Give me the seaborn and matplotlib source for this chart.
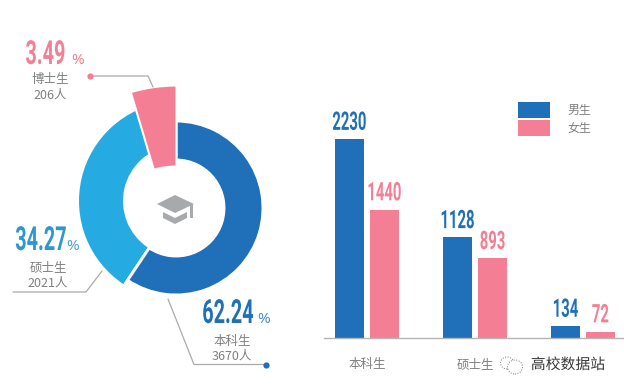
import matplotlib
matplotlib.use("Agg")
import matplotlib.pyplot as plt
import matplotlib.patheffects as pe
from matplotlib.patches import Ellipse, Polygon
from matplotlib.transforms import Affine2D
import pandas as pd
import seaborn as sns

# ---- data ----
levels = ["本科生", "硕士生", "博士生"]
level_ticks = ["本科生", "硕士生", ""]
male = [2230, 1128, 134]
female = [1440, 893, 72]
gender_names = ["男生", "女生"]
ring_arc_share = [59.4, 38.6, 2.0]  # blue sweep / light-blue sweep / tucked under the pink wedge
phd_arc_share = [4.6, 95.4]         # exploded pink wedge as drawn
pct_labels = ["62.24", "34.27", "3.49"]
count_labels = ["3670人", "2021人", "206人"]

BLUE = "#1F70B8"
LIGHT = "#25ABE2"
PINK = "#F47F94"
GREY = "#808080"
LINE = "#ABABAB"
ICON = "#A7A9AC"
NUM_FONT = "Roboto"

sns.set_theme(style="white")
plt.rcParams["font.family"] = ["Noto Sans CJK SC", "DejaVu Sans"]


class Tall(pe.AbstractPathEffect):
    """Draws real text stretched upward from its baseline, for a condensed look."""
    def __init__(self, sy):
        super().__init__()
        self.sy = sy

    def draw_path(self, renderer, gc, tpath, affine, rgbFace=None):
        renderer.draw_path(gc, tpath, Affine2D().scale(1, self.sy) + affine, rgbFace)


W, H = 624, 392
fig = plt.figure(figsize=(W / 100, H / 100), dpi=100, facecolor="white")

# ---- bars ----
ax = fig.add_axes([324 / W, (H - 338) / H, 300 / W, 338 / H])
df = pd.DataFrame({
    "level": levels * 2,
    "n": male + female,
    "gender": [gender_names[0]] * 3 + [gender_names[1]] * 3,
})
sns.barplot(data=df, x="level", y="n", hue="gender", order=levels,
            hue_order=gender_names, palette=[BLUE, PINK], width=0.648, gap=0.143,
            saturation=1, ax=ax, errorbar=None, linewidth=0)
ax.set_xlim(-43 / 108, 257 / 108)
ax.set_ylim(0, 338 / 0.0892)
ax.set_xlabel("")
ax.set_ylabel("")
ax.set_yticks([])
ax.set_xticks(range(3))
ax.set_xticklabels(level_ticks, fontsize=9, color=GREY)
ax.tick_params(axis="x", length=0, pad=14.5)
for s in ["top", "left", "right"]:
    ax.spines[s].set_visible(False)
ax.spines["bottom"].set_color("#B5B5B5")
ax.spines["bottom"].set_linewidth(1)
ax.patch.set_alpha(0)
for cont, col in zip(ax.containers, [BLUE, PINK]):
    ax.bar_label(cont, padding=4.5, fontsize=10.7, color=col, fontweight="bold",
                 family=NUM_FONT, path_effects=[Tall(1.72)], clip_on=False)
handles, labels = ax.get_legend_handles_labels()
ax.legend(handles, labels, loc="upper left", bbox_to_anchor=(518 / W, 1 - 102 / H),
          bbox_transform=fig.transFigure, frameon=False, fontsize=8.6, labelcolor=GREY,
          handlelength=2.67, handleheight=1.68, handletextpad=1.5, labelspacing=0.16,
          borderpad=0, borderaxespad=0)

# ---- overlay in pixel coordinates (y measured from the top of the picture) ----
ov = fig.add_axes([0, 0, 1, 1], zorder=3)
ov.patch.set_alpha(0)


def Y(y):
    return H - y


w_lo, _ = ov.pie(ring_arc_share, colors=["white", LIGHT, "white"], startangle=90, counterclock=False,
                 center=(179, Y(201)), radius=100, wedgeprops=dict(width=44, linewidth=0))
w_lo[0].remove()
w_lo[2].remove()
w_lo[1].set_zorder(1)
w_hi, _ = ov.pie(ring_arc_share, colors=[BLUE, "white", "white"], startangle=90, counterclock=False,
                 center=(176, Y(208)), radius=87,
                 wedgeprops=dict(width=39, linewidth=2.1, edgecolor="white"))
w_hi[1].remove()
w_hi[2].remove()
w_hi[0].set_zorder(2)
w_phd, _ = ov.pie(phd_arc_share, colors=[PINK, "white"], startangle=90, counterclock=True,
                  center=(176.5, Y(246)), radius=160.5,
                  wedgeprops=dict(width=81, linewidth=1.5, edgecolor="white"))
w_phd[1].remove()
w_phd[0].set_zorder(3)
ov.set_xlim(0, W)
ov.set_ylim(0, H)
ov.set_position([0, 0, 1, 1])
ov.axis("off")

# graduation cap icon
ov.add_patch(Polygon([(157, Y(204)), (175, Y(195)), (194, Y(204)), (175, Y(213))], fc=ICON, ec="none"))
ov.add_patch(Polygon([(163, Y(212)), (175, Y(218)), (187, Y(212)), (187, Y(218)), (175, Y(224)), (163, Y(218))], fc=ICON, ec="none"))
ov.add_patch(Polygon([(190, Y(205)), (193, Y(204)), (193, Y(218)), (190, Y(218))], fc=ICON, ec="none"))

# leader lines
ov.plot([90, 148, 153], [Y(76), Y(76), Y(87)], color=LINE, lw=0.9, zorder=4)
ov.plot([90], [Y(76)], "o", color=PINK, ms=4.5, mew=0, zorder=5)
ov.plot([13, 86, 102], [Y(292), Y(292), Y(271)], color=LINE, lw=0.9, zorder=4)
ov.plot([168, 194, 264], [Y(299), Y(364.5), Y(364.5)], color=LINE, lw=0.9, zorder=4)
ov.plot([266], [Y(364.5)], "o", color="#1A6FC0", ms=4.5, mew=0, zorder=5)

# big percentages
big = [(228, 323, pct_labels[0], BLUE, 264, "#4A8DCB"),
       (41, 250, pct_labels[1], "#2E97D0", 73, "#4AA3D8"),
       (45.5, 64, pct_labels[2], PINK, 78, PINK)]
for x, y, s, c, px, pc in big:
    ov.text(x, Y(y), s, ha="center", va="baseline", fontsize=14.3, color=c, fontweight="bold",
            family=NUM_FONT, path_effects=[Tall(1.67)], zorder=6)
    ov.text(px, Y(y), "%", ha="center", va="baseline", fontsize=11, color=pc, family="Noto Sans", zorder=6)

# names and counts
names = [(232, 342, levels[0], 356, count_labels[0]),
         (48, 268, levels[1], 283, count_labels[1]),
         (50, 79, levels[2], 95, count_labels[2])]
for x, y1, s1, y2, s2 in names:
    ov.text(x, Y(y1), s1, ha="center", va="center", fontsize=9, color=GREY, zorder=6)
    ov.text(x, Y(y2), s2, ha="center", va="center", fontsize=9, color=GREY, zorder=6)

# watermark
ov.text(568, Y(365), "高校数据站", ha="center", va="center", fontsize=10.7, color="#3A3A3A", zorder=6,
        path_effects=[pe.withStroke(linewidth=1.5, foreground="white")])
ov.add_patch(Ellipse((515, Y(367)), 15, 14, fc="white", ec="#777777", lw=0.7, ls=":", zorder=6))
ov.add_patch(Ellipse((507, Y(363)), 13, 12, fc="none", ec="#777777", lw=0.7, ls=":", zorder=5))

fig.savefig("out.png", dpi=100, facecolor="white")
